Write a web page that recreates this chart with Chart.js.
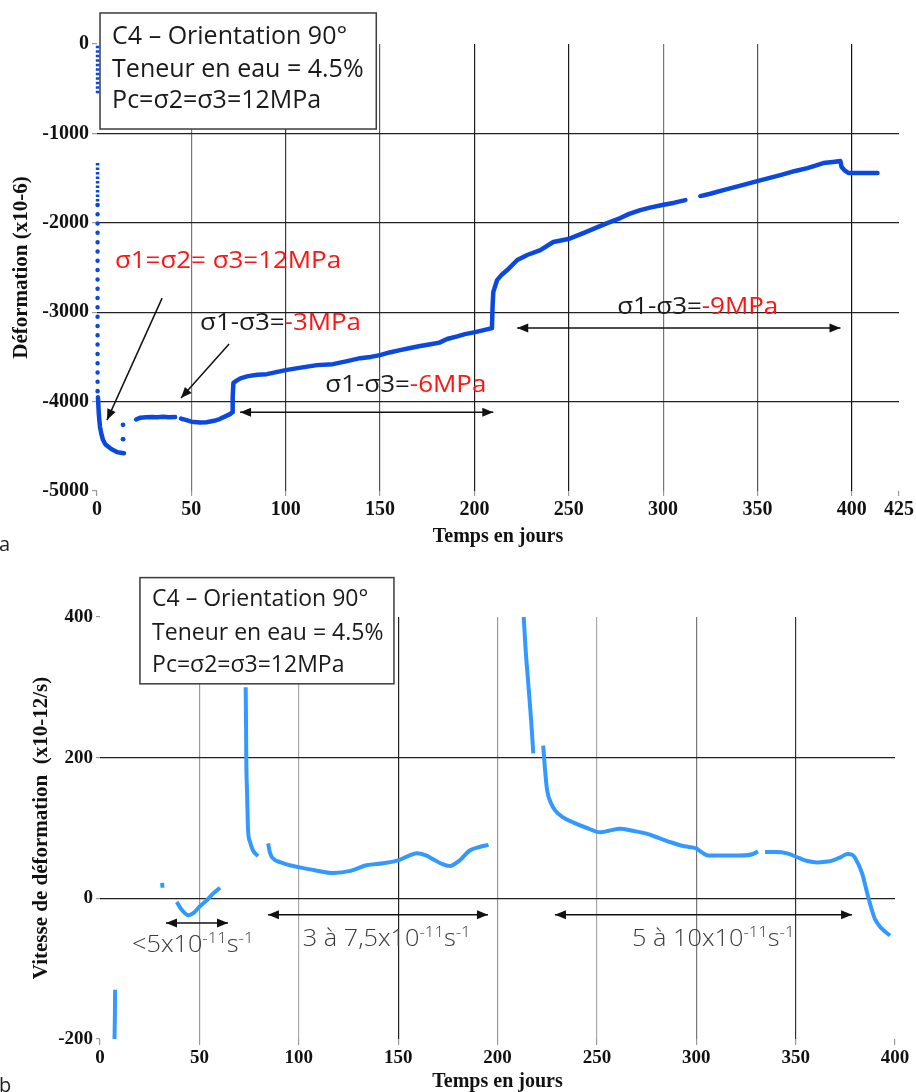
<!DOCTYPE html>
<html>
<head>
<meta charset="utf-8">
<script src="https://cdn.jsdelivr.net/npm/chart.js@4.4.1/dist/chart.umd.min.js"></script>
<style>
  html, body { margin: 0; padding: 0; background: #fff; }
  body { width: 916px; height: 1092px; position: relative; overflow: hidden; font-family: "Open Sans", sans-serif; }
  #wrapTop { position: absolute; left: 0; top: 0; width: 916px; height: 550px; }
  #wrapBot { position: absolute; left: 0; top: 560px; width: 916px; height: 534px; }
  .tag { position: absolute; font-size: 20px; line-height: 20px; color: #222; }
</style>
</head>
<body>
<div id="wrapTop"><canvas id="deformChart"></canvas></div>
<div id="wrapBot"><canvas id="rateChart"></canvas></div>
<div class="tag" style="left:-1px; top:534px;">a</div>
<div class="tag" style="left:-1px; top:1075px;">b</div>
<script>
// ---- (a) deformation vs time, x10-6 ----
const deformXTicks = [0, 50, 100, 150, 200, 250, 300, 350, 400, 425];
const deformYTicks = [-5000, -4000, -3000, -2000, -1000, 0];

// main record (null = gap in the record)
const deformDays = [
  0.5, 1.0, 1.6, 2.4, 3.2, 4.5, 6.9, 8.8, 10.6, 12.5, 14.3, null,
  20.7, 23, 26, 29, 32, 35, 38, 41.4, null,
  44.5, 47, 50, 54.6, 58, 62, 65, 68, 70.5, 71.7,
  71.9, 72.3, 74, 76, 80, 85, 90, 95, 100, 108,
  116.6, 125, 132, 139.4, 145, 150, 155, 160.6, 166, 171.3,
  176, 181.5, 185.5, 190.9, 195, 200.4, 205, 209.3, 209.6, 210,
  212, 214.5, 217.4, 222.7, 228, 234.9, 241.8, 249.7, 257.7, 264,
  270.4, 277.3, 282, 287.9, 293, 299.6, 306, 311.8, null,
  319.7, 325, 331.9, 340, 349.9, 356, 362.1, 370, 376.5, 384.9,
  390, 393.9, 394.6, 396, 398.2, 405, 413.6
];
const deformValues = [
  -3950, -4150, -4285, -4370, -4430, -4480, -4520, -4545, -4565, -4572, -4578, null,
  -4200, -4180, -4175, -4172, -4175, -4170, -4175, -4172, null,
  -4190, -4205, -4225, -4235, -4230, -4215, -4195, -4165, -4140, -4120,
  -3950, -3790, -3765, -3740, -3715, -3700, -3693, -3670, -3648, -3620,
  -3592, -3581, -3550, -3514, -3500, -3480, -3450, -3424, -3400, -3379,
  -3362, -3340, -3300, -3270, -3245, -3223, -3200, -3178, -2950, -2775,
  -2641, -2580, -2529, -2416, -2360, -2305, -2215, -2182, -2115, -2060,
  -2003, -1947, -1900, -1858, -1830, -1801, -1775, -1746, null,
  -1701, -1675, -1634, -1590, -1533, -1500, -1466, -1420, -1388, -1332,
  -1320, -1309, -1376, -1410, -1443, -1443, -1443
];

// loading step at t=0, recorded as scattered dots
const loadDenseDays = [0.3, 0.3, null, 0.3, 0.3];
const loadDenseValues = [-20, -550, null, -1330, -1800];
const loadSparseDays = [0.3, 0.3];
const loadSparseValues = [-1800, -3950];
const strayDays = [13.8, 13.8];
const strayValues = [-4260, -4420];

// ---- (b) strain rate vs time, x10-12/s ----
const rateXTicks = [0, 50, 100, 150, 200, 250, 300, 350, 400];
const rateYTicks = [-200, 0, 200, 400];

const rateDays = [
  7.3, 7.5, 7.6, null,
  31.3, 31.4, null,
  38.6, 41, 44.4, 47, 50, 54, 57, 60.4, null,
  73.3, 73.5, 73.6, 74, 74.5, 75.5, 77, 79.5, null,
  84.6, 85.5, 87, 91, 95.6, 100.6, 108, 117.3, 126, 134,
  142.5, 150, 155, 159.4, 164, 168, 172, 176, 181, 186,
  191, 195.5, null,
  212.8, 214, 215.5, 217, 218, null,
  223, 224, 225, 227, 229, 233, 238, 245, 251.6, 256,
  261.6, 268, 275, 281, 288, 294, 300, 303, 306, 314,
  322, 328.6, 331, null,
  334.6, 340, 345.7, 352, 356, 360.7, 365, 368.8, 373, 376,
  378.5, 380, 383.4, 386.5, 388.5, 390, 393, 397.5
];
const rateValues = [
  -200, -165, -130, null,
  22, 15, null,
  -5, -16, -24, -21, -12, -2, 7, 15, null,
  300, 240, 199, 150, 97, 80, 68, 60, null,
  78, 65, 57, 51, 47, 44, 40, 36, 39, 47,
  50, 54, 60, 64, 61, 55, 49, 46, 54, 68,
  73, 76, null,
  420, 360, 305, 250, 206, null,
  217, 180, 153, 135, 125, 115, 108, 100, 94, 96,
  99, 96, 92, 86, 79, 74, 71, 65, 61, 61,
  61, 63, 67, null,
  66, 66, 64, 57, 53, 51, 52, 54, 59, 63,
  62, 57, 36, 2, -18, -30, -42, -53
];

const deformBlue = '#0a48e0';
const rateBlue = '#3399ff';
const red = '#ff1414';
const ink = '#1a1a1a';
const soft = '#3a3a3a';

// x for gap entries reuses the previous day so the scale never sees a null x
function points(xs, ys) {
  return ys.map((y, i) => ({ x: xs[i] != null ? xs[i] : xs[i - 1], y: y }));
}

function drawArrow(ctx, x1, y1, x2, y2, both) {
  const head = (hx, hy, ang) => {
    ctx.beginPath();
    ctx.moveTo(hx, hy);
    ctx.lineTo(hx - 11 * Math.cos(ang) + 4.5 * Math.sin(ang), hy - 11 * Math.sin(ang) - 4.5 * Math.cos(ang));
    ctx.lineTo(hx - 11 * Math.cos(ang) - 4.5 * Math.sin(ang), hy - 11 * Math.sin(ang) + 4.5 * Math.cos(ang));
    ctx.closePath();
    ctx.fill();
  };
  const ang = Math.atan2(y2 - y1, x2 - x1);
  ctx.strokeStyle = '#111';
  ctx.fillStyle = '#111';
  ctx.lineWidth = 1.5;
  ctx.beginPath();
  ctx.moveTo(x1, y1);
  ctx.lineTo(x2, y2);
  ctx.stroke();
  head(x2, y2, ang);
  if (both) head(x1, y1, ang + Math.PI);
}

// runs of text with colour and optional superscript, slightly widened to mimic the source font
function drawRich(ctx, x, y, parts, size, weight, stretch) {
  ctx.save();
  ctx.translate(x, y);
  ctx.scale(stretch || 1, 1);
  ctx.textBaseline = 'middle';
  ctx.textAlign = 'left';
  let cx = 0;
  parts.forEach(p => {
    const fs = p[2] ? size * 0.66 : size;
    ctx.font = (weight || 400) + ' ' + fs + 'px "Open Sans", sans-serif';
    ctx.fillStyle = p[1];
    ctx.fillText(p[0], cx, p[2] ? -size * 0.32 : 0);
    cx += ctx.measureText(p[0]).width;
  });
  ctx.restore();
}

// boxes, arrows and labels placed in data coordinates
const annotatePlugin = {
  id: 'annotate',
  afterDraw(chart, args, opts) {
    const ctx = chart.ctx;
    const px = v => chart.scales.x.getPixelForValue(v);
    const py = v => chart.scales.y.getPixelForValue(v);
    ctx.save();
    (opts.boxes || []).forEach(b => {
      const x1 = px(b.x1), x2 = px(b.x2), y1 = py(b.y1), y2 = py(b.y2);
      ctx.fillStyle = '#fff';
      ctx.fillRect(x1, y1, x2 - x1, y2 - y1);
      ctx.strokeStyle = '#3c3c3c';
      ctx.lineWidth = 1.5;
      ctx.strokeRect(x1, y1, x2 - x1, y2 - y1);
    });
    (opts.arrows || []).forEach(a => drawArrow(ctx, px(a.from[0]), py(a.from[1]), px(a.to[0]), py(a.to[1]), a.both));
    (opts.labels || []).forEach(l => drawRich(ctx, px(l.x), py(l.y), l.parts, l.size, l.weight, l.stretch));
    ctx.restore();
  }
};

function gridColor(map) {
  return ctx => map[ctx.tick.value] || 'rgba(0,0,0,0)';
}

Chart.defaults.font.family = '"Liberation Serif", "Times New Roman", serif';
Chart.defaults.color = '#111';

new Chart(document.getElementById('deformChart'), {
  type: 'line',
  data: {
    datasets: [
      { data: points(deformDays, deformValues), borderColor: deformBlue, borderWidth: 4.5, pointRadius: 0,
        tension: 0, spanGaps: false, borderCapStyle: 'round', borderJoinStyle: 'round', clip: 6 },
      { data: points(loadDenseDays, loadDenseValues), borderColor: deformBlue, borderWidth: 3.5,
        borderDash: [2.5, 2], pointRadius: 0, spanGaps: false, clip: 6 },
      { data: points(loadSparseDays, loadSparseValues), borderColor: deformBlue, borderWidth: 4.5,
        borderDash: [0.01, 9.3], borderCapStyle: 'round', pointRadius: 0, clip: 6 },
      { data: points(strayDays, strayValues), showLine: false, pointRadius: 2.4,
        pointBackgroundColor: deformBlue, pointBorderWidth: 0 }
    ]
  },
  options: {
    responsive: true,
    maintainAspectRatio: false,
    animation: false,
    events: [],
    layout: { padding: { left: 0, right: 17, top: 44, bottom: 0 } },
    plugins: {
      legend: { display: false },
      tooltip: { enabled: false },
      annotate: {
        boxes: [{ x1: 1.6, x2: 148, y1: 347, y2: -951 }],
        arrows: [
          { from: [34.5, -2842], to: [5.3, -4207] },
          { from: [70, -3357], to: [44.5, -3961] },
          { from: [75.8, -4118], to: [210, -4118], both: true },
          { from: [222.7, -3178], to: [394, -3178], both: true }
        ],
        labels: [
          { x: 8, y: 78, size: 25, parts: [['C4 – Orientation 90°', ink]] },
          { x: 8, y: -291, size: 25, parts: [['Teneur en eau = 4.5%', ink]] },
          { x: 8, y: -638, size: 25, parts: [['Pc=σ2=σ3=12MPa', ink]] },
          { x: 9.5, y: -2428, size: 24, stretch: 1.08, parts: [['σ1=σ2= σ3=12MPa', red]] },
          { x: 54.6, y: -3122, size: 24, stretch: 1.08, parts: [['σ1-σ3=', ink], ['-3MPa', red]] },
          { x: 121, y: -3816, size: 24, stretch: 1.08, parts: [['σ1-σ3=', ink], ['-6MPa', red]] },
          { x: 275.7, y: -2943, size: 24, stretch: 1.08, parts: [['σ1-σ3=', ink], ['-9MPa', red]] }
        ]
      }
    },
    scales: {
      x: {
        type: 'linear', min: 0, max: 425,
        afterBuildTicks: a => { a.ticks = deformXTicks.map(v => ({ value: v })); },
        afterFit: a => { a.height = 59; a.paddingLeft = 0; a.paddingRight = 0; },
        border: { display: false },
        grid: {
          color: gridColor({ 50: '#777', 100: '#3a3a3a', 150: '#555', 200: '#1e1e1e', 250: '#1e1e1e', 300: '#777', 350: '#555', 400: '#111' }),
          lineWidth: 1.2, tickLength: 5, tickColor: '#999'
        },
        ticks: { font: { size: 20, weight: 'bold' }, padding: 2, maxRotation: 0, autoSkip: false, callback: v => String(v) },
        title: { display: true, text: 'Temps en jours', font: { size: 20, weight: 'bold' }, padding: { top: 0, bottom: 1 } }
      },
      y: {
        type: 'linear', min: -5000, max: 0,
        afterBuildTicks: a => { a.ticks = deformYTicks.map(v => ({ value: v })); },
        afterFit: a => { a.width = 97; a.paddingTop = 0; a.paddingBottom = 0; },
        border: { display: false },
        grid: {
          color: gridColor({ '-4000': '#222', '-3000': '#222', '-2000': '#222', '-1000': '#222' }),
          lineWidth: 1.2, tickLength: 5, tickColor: '#999'
        },
        ticks: { font: { size: 20, weight: 'bold' }, padding: 3, autoSkip: false, callback: v => String(v) },
        title: { display: true, text: 'Déformation (x10-6)', font: { size: 21, weight: 'bold' }, padding: { top: 9, bottom: 0 } }
      }
    }
  },
  plugins: [annotatePlugin]
});

const supRate = (lead) => [[lead, soft], ['-11', soft, true], ['s', soft], ['-1', soft, true]];

new Chart(document.getElementById('rateChart'), {
  type: 'line',
  data: {
    datasets: [
      { data: points(rateDays, rateValues), borderColor: rateBlue, borderWidth: 4, pointRadius: 0,
        cubicInterpolationMode: 'monotone', spanGaps: false, borderCapStyle: 'butt' }
    ]
  },
  options: {
    responsive: true,
    maintainAspectRatio: false,
    animation: false,
    events: [],
    layout: { padding: { left: 0, right: 21, top: 57, bottom: 0 } },
    plugins: {
      legend: { display: false },
      tooltip: { enabled: false },
      annotate: {
        boxes: [{ x1: 20.1, x2: 147.9, y1: 456, y2: 305 }],
        arrows: [
          { from: [33.2, -35], to: [64.4, -35], both: true },
          { from: [84.5, -23.5], to: [195.2, -23.5], both: true },
          { from: [228.9, -23.5], to: [378.4, -23.5], both: true }
        ],
        labels: [
          { x: 26.2, y: 425, size: 23, parts: [['C4 – Orientation 90°', ink]] },
          { x: 26.2, y: 377, size: 23, parts: [['Teneur en eau = 4.5%', ink]] },
          { x: 26.2, y: 331, size: 23, parts: [['Pc=σ2=σ3=12MPa', ink]] },
          { x: 16.1, y: -67.5, size: 23, weight: 300, stretch: 1.1, parts: supRate('<5x10') },
          { x: 102, y: -59, size: 23, weight: 300, stretch: 1.1, parts: supRate('3 à 7,5x10') },
          { x: 267.7, y: -59, size: 23, weight: 300, stretch: 1.1, parts: supRate('5 à 10x10') }
        ]
      }
    },
    scales: {
      x: {
        type: 'linear', min: 0, max: 400,
        afterBuildTicks: a => { a.ticks = rateXTicks.map(v => ({ value: v })); },
        afterFit: a => { a.height = 55; a.paddingLeft = 0; a.paddingRight = 0; },
        border: { display: false },
        grid: {
          color: gridColor({ 50: '#999', 100: '#aaa', 150: '#222', 200: '#999', 250: '#aaa', 300: '#777', 350: '#333' }),
          lineWidth: 1.2, tickLength: 6, tickColor: '#999'
        },
        ticks: { font: { size: 19, weight: 'bold' }, padding: 2, maxRotation: 0, autoSkip: false, callback: v => String(v) },
        title: { display: true, text: 'Temps en jours', font: { size: 20, weight: 'bold' }, padding: { top: 0, bottom: 0 } }
      },
      y: {
        type: 'linear', min: -200, max: 400,
        afterBuildTicks: a => { a.ticks = rateYTicks.map(v => ({ value: v })); },
        afterFit: a => { a.width = 100; a.paddingTop = 0; a.paddingBottom = 0; },
        border: { display: false },
        grid: {
          color: gridColor({ 0: '#222', 200: '#222' }),
          lineWidth: 1.2, tickLength: 4, tickColor: '#999'
        },
        ticks: { font: { size: 19, weight: 'bold' }, padding: 3, autoSkip: false, callback: v => String(v) },
        title: { display: true, text: 'Vitesse de déformation  (x10-12/s)', font: { size: 21, weight: 'bold' }, padding: { top: 29, bottom: 0 } }
      }
    }
  },
  plugins: [annotatePlugin]
});
</script>
</body>
</html>
